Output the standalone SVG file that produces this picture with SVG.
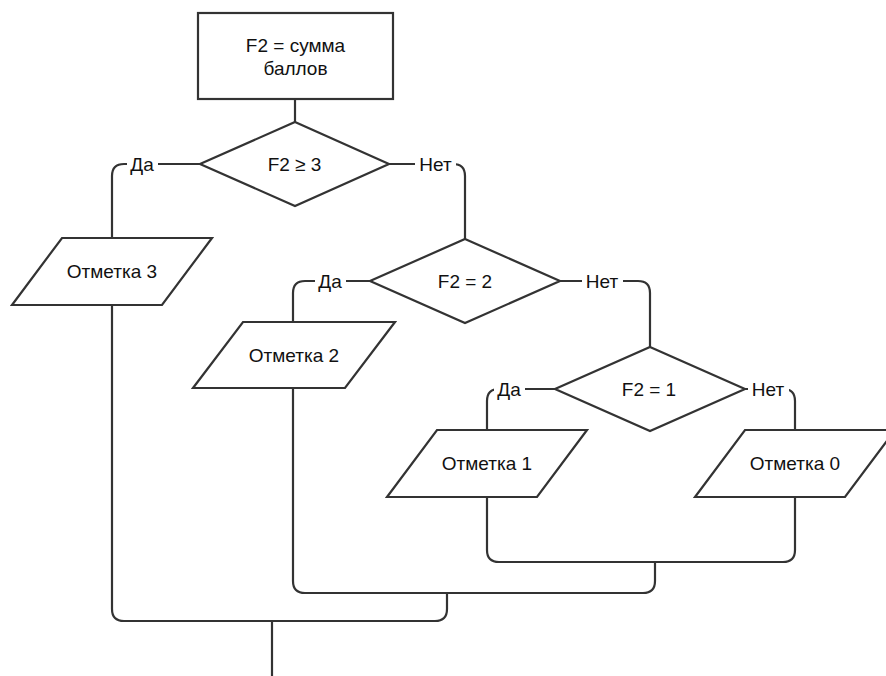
<svg xmlns="http://www.w3.org/2000/svg" width="886" height="676" viewBox="0 0 886 676">
<style>
.shape{fill:#fff;stroke:#333;stroke-width:2.2}
.edge{fill:none;stroke:#333;stroke-width:2.2}
text{font-family:"Liberation Sans",Arial,sans-serif;font-size:19px;fill:#111;text-anchor:middle}
.lblbg{fill:#fff}
</style>
<rect width="886" height="676" fill="#fff"/>
<g id="connectors">
<path class="edge" d="M295,99 V122"/>
<path class="edge" d="M200,164 H124 Q112,164 112,176 V238"/>
<path class="edge" d="M389,164 H453 Q465,164 465,176 V239"/>
<path class="edge" d="M370,281 H305 Q293,281 293,293 V322"/>
<path class="edge" d="M560,281 H638 Q650,281 650,293 V347"/>
<path class="edge" d="M555,389 H499 Q487,389 487,401 V430"/>
<path class="edge" d="M745,389 H783 Q795,389 795,401 V430"/>
<path class="edge" d="M487,497 V550 Q487,562 499,562 H783 Q795,562 795,550 V497"/>
<path class="edge" d="M293,388 V581 Q293,593 305,593 H643 Q655,593 655,581 V562"/>
<path class="edge" d="M112,305 V609 Q112,621 124,621 H435 Q447,621 447,609 V593"/>
<path class="edge" d="M272,621 V676"/>
<g id="labels">
<rect class="lblbg" x="127" y="152" width="31" height="24"/>
<text x="142" y="171">Да</text>
<rect class="lblbg" x="415" y="152" width="41" height="24"/>
<text x="435.5" y="171">Нет</text>
<rect class="lblbg" x="315" y="269" width="31" height="24"/>
<text x="330" y="288">Да</text>
<rect class="lblbg" x="582" y="269" width="41" height="24"/>
<text x="602" y="288">Нет</text>
<rect class="lblbg" x="494" y="377" width="31" height="24"/>
<text x="509" y="396">Да</text>
<rect class="lblbg" x="748" y="377" width="41" height="24"/>
<text x="768" y="396">Нет</text>
</g>
</g>
<g id="start">
<rect class="shape" x="198" y="13" width="195" height="86"/>
<text x="295.5" y="52">F2 = сумма</text>
<text x="295.5" y="75">баллов</text>
</g>
<g id="cond1">
<polygon class="shape" points="295,122 389,164 295,206 200,164"/>
<text x="294.5" y="171">F2 ≥ 3</text>
</g>
<g id="cond2">
<polygon class="shape" points="465,239 560,281 465,323 370,281"/>
<text x="465" y="288">F2 = 2</text>
</g>
<g id="cond3">
<polygon class="shape" points="650,347 745,389 650,431 555,389"/>
<text x="649" y="396">F2 = 1</text>
</g>
<g id="out3">
<polygon class="shape" points="62,238 212,238 162,305 12,305"/>
<text x="112" y="278">Отметка 3</text>
</g>
<g id="out2">
<polygon class="shape" points="243,322 395,322 345,388 193,388"/>
<text x="294" y="362">Отметка 2</text>
</g>
<g id="out1">
<polygon class="shape" points="437,430 587,430 537,497 387,497"/>
<text x="487" y="470">Отметка 1</text>
</g>
<g id="out0">
<polygon class="shape" points="745,430 895,430 845,497 695,497"/>
<text x="795" y="470">Отметка 0</text>
</g>
</svg>
